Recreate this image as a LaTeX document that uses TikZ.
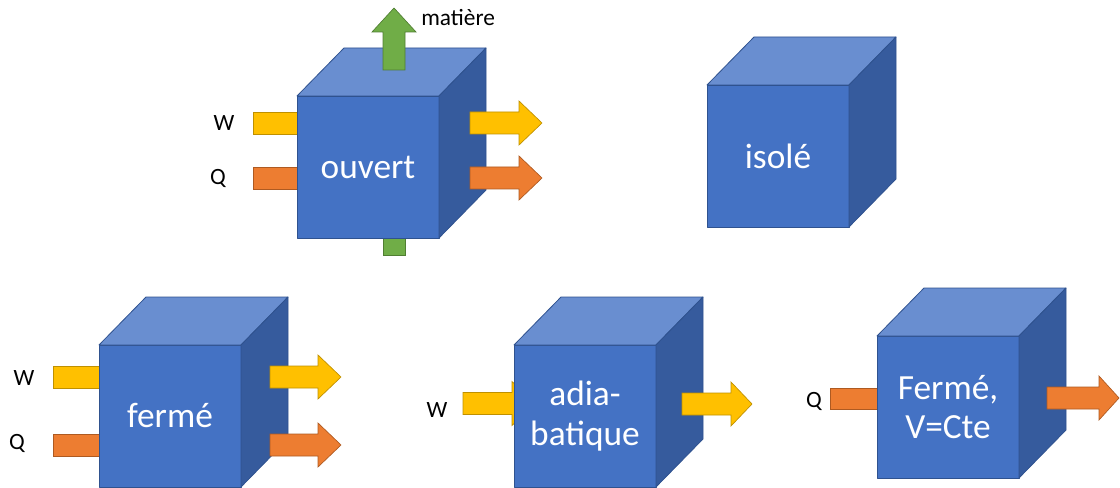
\documentclass[tikz,border=0pt]{standalone}
\usepackage{fontspec}
\setmainfont{Carlito}
\definecolor{cubefront}{HTML}{4472C4}
\definecolor{cubetop}{HTML}{698ED0}
\definecolor{cubeside}{HTML}{365B9D}
\definecolor{cubeline}{HTML}{2F528F}
\definecolor{ayellow}{HTML}{FFC000}
\definecolor{ayellowl}{HTML}{BF9000}
\definecolor{aorange}{HTML}{ED7D31}
\definecolor{aorangel}{HTML}{AE5A21}
\definecolor{agreen}{HTML}{70AD47}
\definecolor{agreenl}{HTML}{507E32}
\newcommand\cubefont{\fontsize{26.5}{29.5}\selectfont}
\newcommand\smallfont{\fontsize{17.5}{20}\selectfont}
\tikzset{
  cubeedge/.style={draw=cubeline, line width=0.6pt, line join=round},
  frontface/.style={cubeedge, fill=cubefront, rectangle, anchor=north west,
    inner sep=0pt, outer sep=0pt, minimum width=106.5pt, minimum height=106.5pt,
    text=white, font=\cubefont, align=center},
  topface/.style={cubeedge, fill=cubetop},
  sideface/.style={cubeedge, fill=cubeside},
  yarrow/.style={fill=ayellow, draw=ayellowl, line width=0.5pt, line join=miter},
  oarrow/.style={fill=aorange, draw=aorangel, line width=0.5pt, line join=miter},
  garrow/.style={fill=agreen, draw=agreenl, line width=0.5pt, line join=miter},
  lbl/.style={font=\smallfont, text=black, inner sep=0pt},
}
% cube: name, x, y (front top-left), label
\newcommand\drawcube[4]{%
  \node[frontface] (#1) at (#2,#3) {#4};
  \draw[topface] (#1.north west) -- ++(47,-48) -- ++(142,0) -- (#1.north east) -- cycle;
  \draw[sideface] (#1.north east) -- ++(47,-48) -- ++(0,142) -- (#1.south east) -- cycle;
}
% horizontal block arrow: style, xstart, xheadbase, xtip, ycenter
\newcommand\harrow[5]{%
  \draw[#1] (#2,#5-11) -- (#3,#5-11) -- (#3,#5-22) -- (#4,#5) -- (#3,#5+22)
    -- (#3,#5+11) -- (#2,#5+11) -- cycle;
}
\begin{document}
\begin{tikzpicture}[x={(0.75pt,0)}, y={(0,-0.75pt)}]
\useasboundingbox (0,0) rectangle (1120,488);

% ---------- ouvert ----------
\draw[yarrow] (253,112) rectangle (300,134);
\draw[oarrow] (253,167) rectangle (300,189);
\draw[garrow] (383,230) rectangle (405,255);
\drawcube{ouvert}{297}{96}{ouvert}
\harrow{yarrow}{470}{519}{542}{123}
\harrow{oarrow}{470}{519}{542}{178}
\draw[garrow] (383,70) -- (383,32) -- (372,32) -- (394,8) -- (416,32) -- (405,32) -- (405,70) -- cycle;
\node[lbl] (Wo) at (224,123) {W};
\node[lbl] (Qo) at (218,178) {Q};
\node[lbl, anchor=west] (mat) at (421,18) {matière};

% ---------- isolé ----------
\drawcube{isole}{707}{85}{isolé}

% ---------- fermé ----------
\draw[yarrow] (53,366) rectangle (102,388);
\draw[oarrow] (53,434) rectangle (102,456);
\drawcube{ferme}{99}{345}{fermé}
\harrow{yarrow}{270}{318}{341}{377}
\harrow{oarrow}{270}{318}{341}{445}
\node[lbl] (Wf) at (24,378) {W};
\node[lbl] (Qf) at (17,443) {Q};

% ---------- adiabatique ----------
\harrow{yarrow}{463}{512}{535}{403.5}
\drawcube{adia}{514}{345}{adia-\\batique}
\harrow{yarrow}{682}{731}{752}{404}
\node[lbl] (Wa) at (437,410) {W};

% ---------- fermé V=Cte ----------
\draw[oarrow] (830,388) rectangle (880,409);
\drawcube{fermev}{877}{336}{Fermé,\\V=Cte}
\harrow{oarrow}{1047}{1099}{1119}{398}
\node[lbl] (Qv) at (814,401) {Q};
\end{tikzpicture}
\end{document}
